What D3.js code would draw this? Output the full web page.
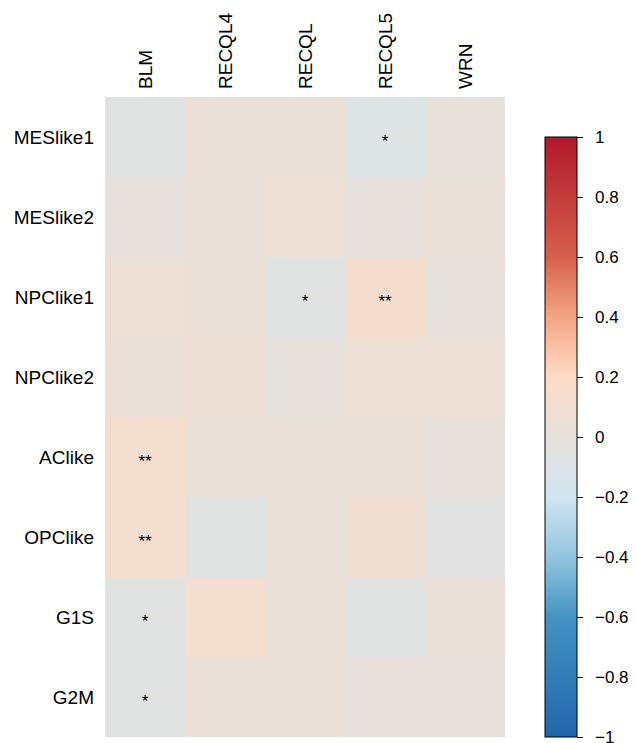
<!DOCTYPE html>
<html>
<head>
<meta charset="utf-8">
<style>
  body { margin: 0; background: #fff; }
  text { font-family: "Liberation Sans", Arial, sans-serif; fill: #000; }
</style>
</head>
<body>
<div id="vizDiv"></div>
<script src="https://d3js.org/d3.v7.min.js"></script>
<script>
// genes (columns) and cell states (rows)
const genes = ["BLM", "RECQL4", "RECQL", "RECQL5", "WRN"];
const states = ["MESlike1", "MESlike2", "NPClike1", "NPClike2", "AClike", "OPClike", "G1S", "G2M"];

// correlation per row, one value per gene
const MESlike1 = [-0.06, 0.04, 0.04, -0.08, 0.01];
const MESlike2 = [0.00, 0.03, 0.05, 0.00, 0.04];
const NPClike1 = [0.05, 0.04, -0.06, 0.12, 0.02];
const NPClike2 = [0.04, 0.06, 0.01, 0.05, 0.05];
const AClike   = [0.11, 0.04, 0.04, 0.04, 0.01];
const OPClike  = [0.11, -0.06, 0.03, 0.09, -0.05];
const G1S      = [-0.06, 0.11, 0.04, -0.06, 0.03];
const G2M      = [-0.06, 0.04, 0.04, 0.02, 0.02];

// significance marks
const sigMESlike1 = ["", "", "", "*", ""];
const sigMESlike2 = ["", "", "", "", ""];
const sigNPClike1 = ["", "", "*", "**", ""];
const sigNPClike2 = ["", "", "", "", ""];
const sigAClike   = ["**", "", "", "", ""];
const sigOPClike  = ["**", "", "", "", ""];
const sigG1S      = ["*", "", "", "", ""];
const sigG2M      = ["*", "", "", "", ""];

const colorTicks = [1, 0.8, 0.6, 0.4, 0.2, 0, -0.2, -0.4, -0.6, -0.8, -1];

const rows = [MESlike1, MESlike2, NPClike1, NPClike2, AClike, OPClike, G1S, G2M];
const sigs = [sigMESlike1, sigMESlike2, sigNPClike1, sigNPClike2, sigAClike, sigOPClike, sigG1S, sigG2M];

const cells = [];
states.forEach((s, i) => {
  genes.forEach((g, j) => {
    cells.push({ state: s, gene: g, value: rows[i][j], sig: sigs[i][j] });
  });
});

const svg = d3.select("#vizDiv")
  .append("svg")
  .attr("width", 637)
  .attr("height", 743);

const x = d3.scaleBand().domain(genes).range([105, 505]);
const y = d3.scaleBand().domain(states).range([97, 737]);

const color = d3.scaleLinear()
  .domain([-1, -0.6, -0.4, -0.2, 0, 0.2, 0.4, 0.6, 1])
  .range(["#2166AC", "#4393C3", "#92C5DE", "#D1E5F0", "#E6E1DC", "#FDDBC7", "#F4A582", "#D6604D", "#B2182B"])
  .interpolate(d3.interpolateRgb)
  .clamp(true);

// cells
svg.append("g")
  .selectAll("rect")
  .data(cells)
  .enter()
  .append("rect")
  .attr("x", d => x(d.gene))
  .attr("y", d => y(d.state))
  .attr("width", x.bandwidth())
  .attr("height", y.bandwidth())
  .style("fill", d => color(d.value));

// stars
svg.append("g")
  .selectAll("text")
  .data(cells.filter(d => d.sig))
  .enter()
  .append("text")
  .attr("x", d => x(d.gene) + x.bandwidth() / 2)
  .attr("y", d => y(d.state) + y.bandwidth() / 2 + 10)
  .attr("text-anchor", "middle")
  .style("font-size", "17px")
  .text(d => d.sig);

// row labels
svg.append("g")
  .selectAll("text")
  .data(states)
  .enter()
  .append("text")
  .attr("x", 94)
  .attr("y", d => y(d) + y.bandwidth() / 2)
  .attr("dy", "0.35em")
  .attr("text-anchor", "end")
  .style("font-size", "19px")
  .text(d => d);

// column labels (rotated)
svg.append("g")
  .selectAll("text")
  .data(genes)
  .enter()
  .append("text")
  .attr("transform", d => `translate(${x(d) + x.bandwidth() / 2},89) rotate(-90)`)
  .attr("dy", "0.35em")
  .attr("text-anchor", "start")
  .style("font-size", "19px")
  .text(d => d);

// colour bar
const cb = d3.scaleLinear().domain([-1, 1]).range([737, 137]);
const defs = svg.append("defs");
const grad = defs.append("linearGradient")
  .attr("id", "cbar")
  .attr("x1", 0).attr("y1", 1).attr("x2", 0).attr("y2", 0);
d3.range(-1, 1.0001, 0.05).forEach(v => {
  grad.append("stop")
    .attr("offset", (v + 1) / 2)
    .attr("stop-color", color(v));
});

svg.append("rect")
  .attr("x", 545)
  .attr("y", cb(1))
  .attr("width", 32)
  .attr("height", cb(-1) - cb(1))
  .style("fill", "url(#cbar)")
  .style("stroke", "#000")
  .style("stroke-width", 1);

const cbAxis = d3.axisRight(cb)
  .tickValues(colorTicks)
  .tickSize(6)
  .tickPadding(12)
  .tickFormat(d => d3.format("")(d).replace("-", "\u2212"));

const ax = svg.append("g")
  .attr("transform", "translate(577,0)")
  .call(cbAxis);
ax.select(".domain").remove();
ax.selectAll("line").style("stroke", "#000");
ax.selectAll("text")
  .style("font-size", "17px")
  .style("font-family", "'Liberation Sans', Arial, sans-serif");
</script>
</body>
</html>
